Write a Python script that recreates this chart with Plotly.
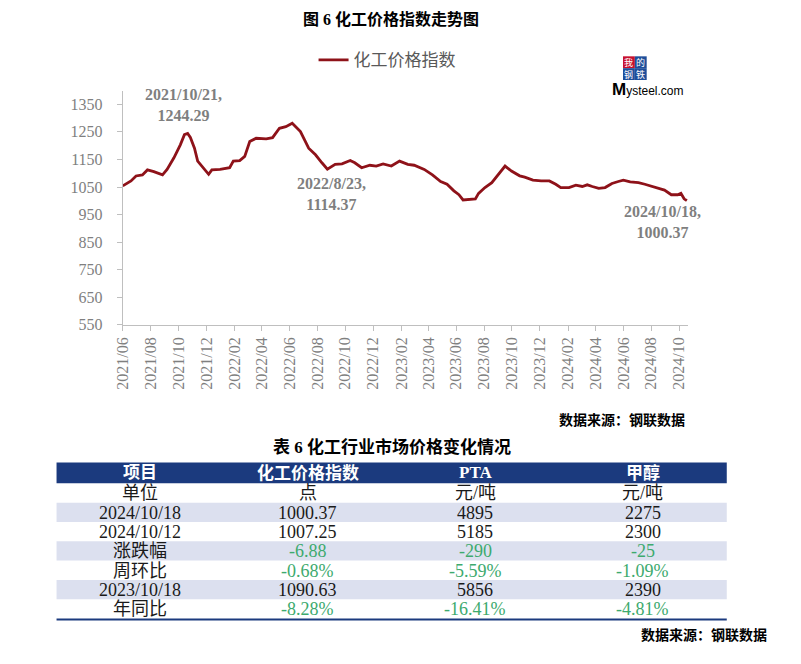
import plotly.graph_objects as go

# ---------------- chart data ----------------
dates = [
    "2021-06-01", "2021-06-19", "2021-06-30", "2021-07-14", "2021-07-25", "2021-08-08",
    "2021-08-27", "2021-09-06", "2021-09-21", "2021-10-05", "2021-10-14", "2021-10-21",
    "2021-10-27", "2021-11-05", "2021-11-12", "2021-11-25", "2021-12-06", "2021-12-13",
    "2021-12-31", "2022-01-21", "2022-01-29", "2022-02-12", "2022-02-23", "2022-03-06",
    "2022-03-20", "2022-04-11", "2022-04-25", "2022-05-10", "2022-05-24", "2022-06-07",
    "2022-06-25", "2022-07-13", "2022-07-28", "2022-08-11", "2022-08-23", "2022-09-09",
    "2022-09-24", "2022-10-12", "2022-10-22", "2022-11-06", "2022-11-24", "2022-12-08",
    "2022-12-23", "2023-01-10", "2023-01-28", "2023-02-15", "2023-03-01", "2023-03-23",
    "2023-04-10", "2023-04-28", "2023-05-12", "2023-05-27", "2023-06-07", "2023-06-16",
    "2023-07-02", "2023-07-13", "2023-07-20", "2023-08-03", "2023-08-18", "2023-09-01",
    "2023-09-16", "2023-09-30", "2023-10-18", "2023-10-29", "2023-11-16", "2023-12-04",
    "2023-12-22", "2024-01-05", "2024-01-16", "2024-02-03", "2024-02-18", "2024-03-03",
    "2024-03-14", "2024-03-25", "2024-04-08", "2024-04-22", "2024-05-07", "2024-05-21",
    "2024-06-01", "2024-06-16", "2024-07-04", "2024-07-18", "2024-08-02", "2024-08-16",
    "2024-08-30", "2024-09-14", "2024-09-28", "2024-10-05", "2024-10-12", "2024-10-18",
]
values = [
    1054, 1072, 1090, 1094, 1112, 1106,
    1094, 1114, 1156, 1203, 1240, 1244.29,
    1230, 1191, 1144, 1120, 1096, 1112,
    1114, 1120, 1144, 1146, 1161, 1215,
    1227, 1225, 1229, 1263, 1269, 1281,
    1251, 1191, 1167, 1138, 1114.37, 1132,
    1134, 1146, 1138, 1120, 1129, 1126,
    1134, 1126, 1144, 1132, 1129, 1114,
    1094, 1070, 1060, 1036, 1022, 1003,
    1007, 1007, 1027, 1048, 1066, 1094,
    1126, 1108, 1090.63, 1086, 1075, 1072,
    1072, 1060, 1048, 1048, 1057, 1052,
    1058, 1052, 1045, 1048, 1063, 1070,
    1075, 1069, 1066, 1060, 1052, 1047,
    1039, 1022, 1022, 1027, 1007.25, 1000.37,
]
series_name = "化工价格指数"
y_ticks = [550, 650, 750, 850, 950, 1050, 1150, 1250, 1350]
x_range = ["2021-06-01", "2024-10-21"]

label_dates = ["2021-10-21", "2022-08-23", "2024-10-18"]
label_values = [1244.29, 1114.37, 1000.37]
label_texts = ["2021/10/21,<br>1244.29", "2022/8/23,<br>1114.37", "2024/10/18,<br>1000.37"]
label_shift = [(-4, 28), (4, -25), (-24, -21)]

# ---------------- table data ----------------
table_header = ["项目", "化工价格指数", "PTA", "甲醇"]
col_items = ["单位", "2024/10/18", "2024/10/12", "涨跌幅", "周环比", "2023/10/18", "年同比"]
col_index = ["点", "1000.37", "1007.25", "-6.88", "-0.68%", "1090.63", "-8.28%"]
col_pta = ["元/吨", "4895", "5185", "-290", "-5.59%", "5856", "-16.41%"]
col_meoh = ["元/吨", "2275", "2300", "-25", "-1.09%", "2390", "-4.81%"]
green_rows = [3, 4, 6]

# page geometry (figure sits inside the page body margin)
OFF = 8
W, H = 801 - 2 * OFF, 664 - 2 * OFF
def px(x):
    return (x - OFF) / W
def py(y):
    return 1 - (y - OFF) / H

SERIF = "Liberation Serif, Noto Sans CJK SC"
CJK = "Noto Sans CJK SC"
GRAY = "#7F7F7F"
AXIS = "#BFBFBF"
NAVY = "#1B3A7E"

fig = go.Figure()
fig.add_trace(go.Scatter(
    x=dates, y=values, mode="lines", name=series_name,
    line=dict(color="#8E1219", width=2.8),
))

annotations = []
shapes = []

for d, v, t, (dx, dy) in zip(label_dates, label_values, label_texts, label_shift):
    annotations.append(dict(
        x=d, y=v, xref="x", yref="y", text="<b>%s</b>" % t, showarrow=False,
        xshift=dx, yshift=dy, xanchor="center", yanchor="middle",
        font=dict(family=SERIF, size=16, color=GRAY), align="center",
    ))

# titles / sources
annotations += [
    dict(x=px(386), y=1.0, xref="paper", yref="paper", text="<b>图 6 化工价格指数走势图</b>",
         showarrow=False, xanchor="center", yanchor="top",
         font=dict(family=SERIF, size=16, color="black")),
    dict(x=px(387), y=py(453), xref="paper", yref="paper", text="<b>表 6 化工行业市场价格变化情况</b>",
         showarrow=False, xanchor="center", yanchor="middle",
         font=dict(family=SERIF, size=17, color="black")),
    dict(x=px(686), y=py(425), xref="paper", yref="paper", text="<b>数据来源：钢联数据</b>",
         showarrow=False, xanchor="right", yanchor="middle",
         font=dict(family=CJK, size=14, color="black")),
    dict(x=px(769), y=py(643), xref="paper", yref="paper", text="<b>数据来源：钢联数据</b>",
         showarrow=False, xanchor="right", yanchor="middle",
         font=dict(family=CJK, size=14, color="black")),
]

# ---------------- table (built from the table lists) ----------------
tx0, tx1 = 48, 726
head_top, head_h, row_h = 469, 21, 19.6
columns = [col_items, col_index, col_pta, col_meoh]
ncol = len(columns)
nrow = len(col_items)
col_w = (tx1 - tx0) / ncol
lav = "#DCE0EF"
dark = "#1A1A1A"
green = "#3DAA6E"

shapes.append(dict(type="rect", xref="paper", yref="paper",
                   x0=px(tx0), x1=px(tx1), y0=py(head_top + head_h), y1=py(head_top),
                   fillcolor=NAVY, line=dict(width=0), layer="below"))
for j, h in enumerate(table_header):
    annotations.append(dict(x=px(tx0 + (j + 0.5) * col_w), y=py(head_top + head_h / 2),
                            xref="paper", yref="paper", text="<b>%s</b>" % h, showarrow=False,
                            xanchor="center", yanchor="middle",
                            font=dict(family=SERIF, size=17, color="white")))
for i in range(nrow):
    top = head_top + head_h + i * row_h
    if i % 2 == 1:
        shapes.append(dict(type="rect", xref="paper", yref="paper",
                           x0=px(tx0), x1=px(tx1), y0=py(top + row_h), y1=py(top),
                           fillcolor=lav, line=dict(width=0), layer="below"))
    for j, col in enumerate(columns):
        color = green if (j > 0 and i in green_rows) else dark
        annotations.append(dict(x=px(tx0 + (j + 0.5) * col_w), y=py(top + row_h / 2 + 0.5),
                                xref="paper", yref="paper", text=col[i], showarrow=False,
                                xanchor="center", yanchor="middle",
                                font=dict(family=SERIF, size=18, color=color)))
table_bottom = head_top + head_h + nrow * row_h
shapes.append(dict(type="line", xref="paper", yref="paper",
                   x0=px(tx0), x1=px(tx1), y0=py(table_bottom + 0.8), y1=py(table_bottom + 0.8),
                   line=dict(color=NAVY, width=2)))

# ---------------- logo ----------------
sq = 12
logo_cells = [("我", 621, 57, "#C8102E"), ("的", 621 + sq, 57, "#1F4E9A"),
              ("钢", 621, 57 + sq, "#1F4E9A"), ("铁", 621 + sq, 57 + sq, "#1F4E9A")]
for ch, x0, y0, col in logo_cells:
    shapes.append(dict(type="rect", xref="paper", yref="paper",
                       x0=px(x0), x1=px(x0 + sq), y0=py(y0 + sq), y1=py(y0),
                       fillcolor=col, line=dict(width=0)))
    annotations.append(dict(x=px(x0 + sq / 2), y=py(y0 + sq / 2), xref="paper", yref="paper",
                            text=ch, showarrow=False, xanchor="center", yanchor="middle",
                            font=dict(family=CJK, size=9, color="white")))
annotations.append(dict(x=px(646), y=py(91), xref="paper", yref="paper",
                        text='<span style="font-size:17px"><b>M</b></span>ysteel.com',
                        showarrow=False, xanchor="center", yanchor="middle",
                        font=dict(family="Liberation Sans", size=12, color="black")))

fig.update_layout(
    width=W, height=H, autosize=False,
    margin=dict(l=0, r=0, t=0, b=0),
    paper_bgcolor="white", plot_bgcolor="white",
    showlegend=True,
    legend=dict(orientation="h", x=px(308), y=py(61), xanchor="left", yanchor="middle",
                font=dict(family=CJK, size=17, color="#595959"),
                bgcolor="rgba(0,0,0,0)"),
    xaxis=dict(
        domain=[px(115), px(687)], anchor="y", type="date", range=x_range,
        tick0="2021-06-01", dtick="M2", tickformat="%Y/%m", tickangle=-90,
        ticks="outside", ticklen=5, tickcolor=AXIS, showline=True, linecolor=AXIS,
        showgrid=False, zeroline=False,
        tickfont=dict(family=SERIF, size=16, color=GRAY),
    ),
    yaxis=dict(
        domain=[py(329.3), py(91.7)], anchor="x", range=[550, 1400],
        tickvals=y_ticks, ticks="outside", ticklen=5, tickcolor=AXIS,
        showline=True, linecolor=AXIS, showgrid=False, zeroline=False,
        ticklabelstandoff=11,
        tickfont=dict(family=SERIF, size=16, color=GRAY),
    ),
    annotations=annotations,
    shapes=shapes,
)

fig.write_html("out.html")
